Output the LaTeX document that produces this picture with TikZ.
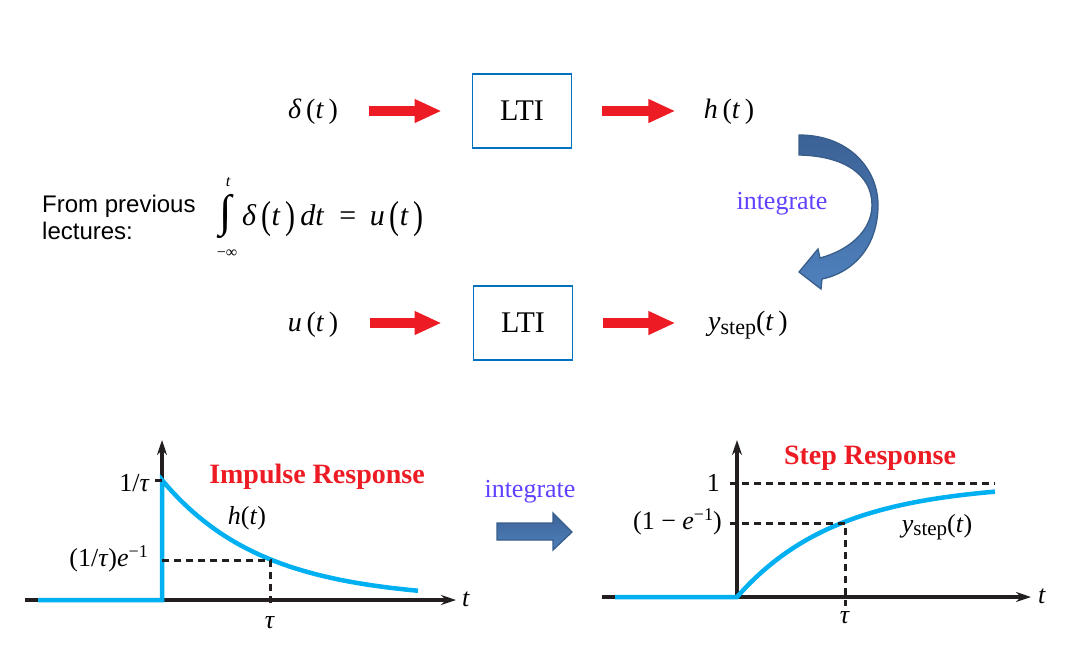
\documentclass[tikz,border=0pt]{standalone}
\usepackage{fontspec}
\setmainfont{Liberation Serif}
\newfontfamily\arialf{Liberation Sans}
\usetikzlibrary{arrows.meta}
\definecolor{arrred}{RGB}{237,28,36}
\definecolor{boxblue}{RGB}{0,112,192}
\definecolor{curveblue}{RGB}{0,176,240}
\definecolor{intcol}{RGB}{95,65,255}
\definecolor{blkfill}{RGB}{79,129,189}
\definecolor{blktop}{RGB}{60,98,150}
\definecolor{blkdraw}{RGB}{56,93,138}
\definecolor{axcol}{RGB}{35,31,32}
\newcommand{\fs}[1]{\fontsize{#1}{#1}\selectfont}
\begin{document}
\begin{tikzpicture}[x=1pt,y=-1pt,
  lbl/.style={font=\fs{28}, inner sep=0pt},
  ltibox/.style={draw=boxblue, line width=1.8pt, minimum width=99pt, minimum height=74pt, font=\fs{30}},
  redarr/.style={draw=arrred, line width=10pt, -{Triangle[length=27pt,width=22pt]}},
  axisln/.style={draw=axcol, line width=3.5pt, -{Stealth[length=15pt,width=10pt]}},
  respcurve/.style={draw=curveblue, line width=4.5pt},
  dashln/.style={draw=axcol, line width=3pt, dash pattern=on 7pt off 5pt},
  glbl/.style={font=\fs{26}, inner sep=0pt},
  title/.style={font=\fs{28}\bfseries, text=arrred, inner sep=0pt},
  intlbl/.style={font=\fs{26}, text=intcol, inner sep=0pt},
  blockarr/.style={top color=blktop, bottom color=blkfill, draw=blkdraw, line width=1.3pt}
]
\useasboundingbox (0,0) rectangle (1068,654);

% ---------- block diagram row 1
\node[ltibox] (lti1) at (522,111) {LTI};
\node[lbl] (d) at (313,112) {\textit{δ}\,(\textit{t}\,)};
\node[lbl] (h) at (729,112) {\textit{h}\,(\textit{t}\,)};
\draw[redarr] ([xshift=-103pt]lti1.west) -- ([xshift=-30pt]lti1.west);
\draw[redarr] ([xshift=30pt]lti1.east) -- ([xshift=103pt]lti1.east);

% ---------- block diagram row 2
\node[ltibox] (lti2) at (523,323) {LTI};
\node[lbl] (u) at (313,325) {\textit{u}\,(\textit{t}\,)};
\node[lbl] (ys) at (748,325) {\textit{y}\raisebox{-0.3ex}{\fs{22}step}(\textit{t}\,)};
\draw[redarr] ([xshift=-103pt]lti2.west) -- ([xshift=-31pt]lti2.west);
\draw[redarr] ([xshift=30pt]lti2.east) -- ([xshift=102pt]lti2.east);

% ---------- from previous lectures
\node[font=\arialf\fs{24}, align=left, anchor=west, inner sep=0pt] (prev) at (42,217) {From previous\\[3pt]lectures:};
\node[inner sep=0pt, font=\fs{45}] (intsign) at (226,216) {∫};
\node[inner sep=0pt, font=\fs{16}\itshape] (uplim) at (228,182) {t};
\node[inner sep=0pt, font=\fs{16}] (lolim) at (227,254) {−∞};
\node[inner sep=0pt, anchor=base west, font=\fs{30}] (inteq) at (242,225)
  {\textit{δ}\,\raisebox{-0.12em}{\scalebox{1}[1.3]{(}}\textit{t}\,\raisebox{-0.12em}{\scalebox{1}[1.3]{)}}\,\textit{dt}\hspace{0.5em}=\hspace{0.45em}\textit{u}\,\raisebox{-0.12em}{\scalebox{1}[1.3]{(}}\textit{t}\,\raisebox{-0.12em}{\scalebox{1}[1.3]{)}}};

% ---------- curved integrate arrow
\path[blockarr] (799,135) .. controls (850,135) and (878,170) .. (878,205)
  .. controls (878,245) and (855,272) .. (822,279)
  -- (821,289) -- (799,272) -- (818,249) -- (820,258)
  .. controls (850,250) and (872,230) .. (872,205)
  .. controls (872,175) and (845,156) .. (799,155) -- cycle;
\node[intlbl] (int1) at (782,204) {integrate};

% ---------- left graph: impulse response
\draw[axisln] (25,600) -- (456,600);
\draw[axisln] (162,600) -- (162,440);
\draw[respcurve] (38,600) -- (162,600) -- (162,480)
  -- plot[domain=0:256, samples=80] ({162+\x},{600-120*exp(-\x/100)});
\draw[dashln] (155,480) -- (162,480);
\draw[dashln] (162,560) -- (270,560) -- (270,607);
\node[glbl, anchor=east] (l1) at (150,483) {1/\textit{τ}};
\node[glbl, anchor=east] (l2) at (148,559) {(1/\textit{τ})\textit{e}\raisebox{0.75ex}{\fs{18}−1}};
\node[glbl] (l3) at (270,623) {\textit{τ}};
\node[glbl] (l4) at (466,599) {\textit{t}};
\node[glbl] (l5) at (247,518) {\textit{h}(\textit{t})};
\node[title] (t1) at (317,477) {Impulse Response};

% ---------- middle arrow
\node[intlbl] (int2) at (530,492) {integrate};
\path[blockarr] (497,523) -- (553,523) -- (553,513) -- (572,532) -- (553,550) -- (553,540) -- (497,540) -- cycle;

% ---------- right graph: step response
\draw[axisln] (602,597) -- (1031,597);
\draw[axisln] (737,597) -- (737,440);
\draw[respcurve] (615,597) -- (737,597)
  -- plot[domain=0:258, samples=80] ({737+\x},{597-114*(1-exp(-\x/100))});
\draw[dashln] (730,483) -- (995,483);
\draw[dashln] (730,523) -- (845,523) -- (845,606);
\node[glbl, anchor=east] (r1) at (720,483) {1};
\node[glbl, anchor=east] (r2) at (722,522) {(1\hspace{0.25em}−\hspace{0.25em}\textit{e}\raisebox{0.75ex}{\fs{18}−1})};
\node[glbl] (r3) at (845,618) {\textit{τ}};
\node[glbl] (r4) at (1042,596) {\textit{t}};
\node[glbl] (r5) at (937,527) {\textit{y}\raisebox{-0.3ex}{\fs{21}step}(\textit{t})};
\node[title] (t2) at (870,458) {Step Response};
\end{tikzpicture}
\end{document}
